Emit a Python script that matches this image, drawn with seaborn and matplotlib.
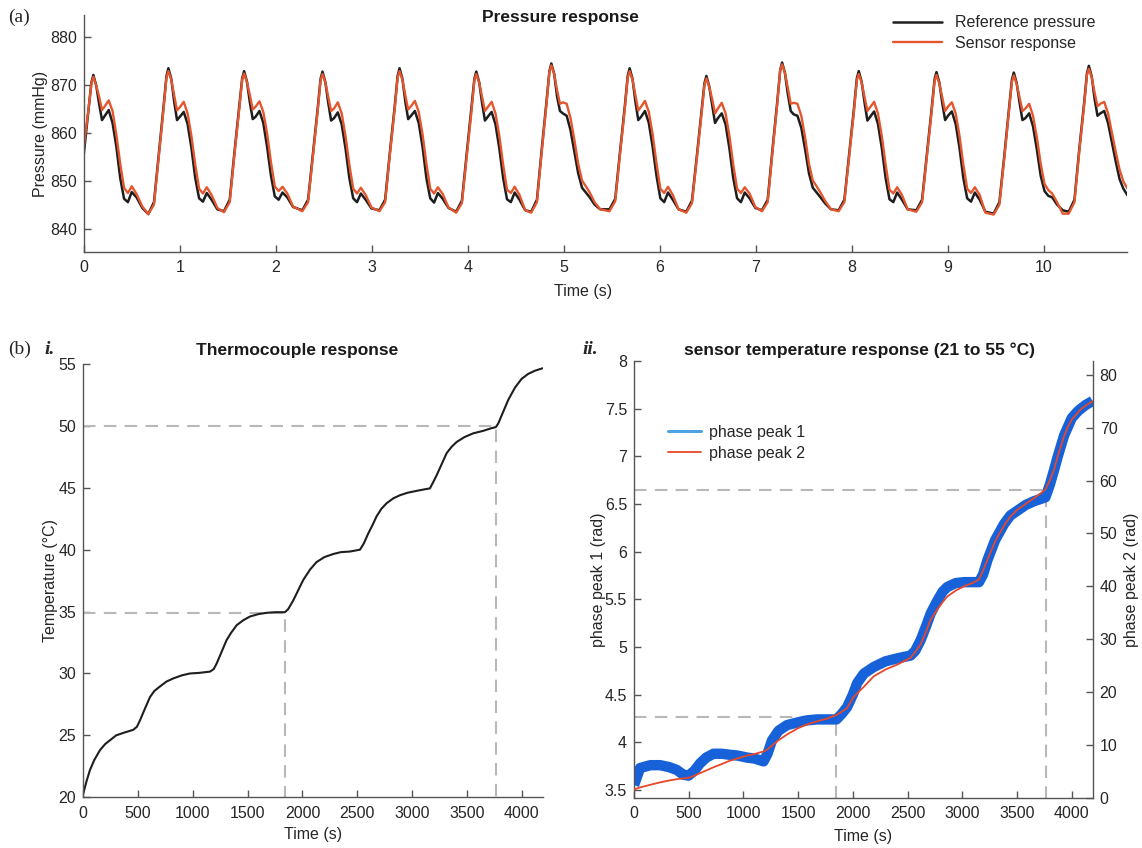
import matplotlib
matplotlib.use("Agg")
import matplotlib.pyplot as plt
from matplotlib.lines import Line2D
from matplotlib.ticker import FuncFormatter
import seaborn as sns

# ---------------- (a) pressure response ----------------
# peak time of every heart beat (s) and the sample offsets taken around each peak
beat_peaks = [0.097, 0.879, 1.668, 2.485, 3.288, 4.088, 4.870,
              5.686, 6.486, 7.275, 8.074, 8.884, 9.690, 10.472]
beat_offsets = [-0.21, -0.15, -0.10, -0.05, -0.02, 0.0, 0.03, 0.06, 0.09, 0.12,
                0.16, 0.20, 0.24, 0.28, 0.32, 0.36, 0.40, 0.45, 0.51]

ref_beats = [
    [843.5, 845.5, 855.5, 865.0, 870.5, 872.0, 869.8, 866.0, 862.6, 863.5, 864.7, 862.0, 857.0, 850.5, 846.2, 845.5, 847.6, 846.5, 844.3],
    [843.0, 845.5, 855.5, 865.5, 871.8, 873.4, 871.2, 866.5, 862.6, 863.3, 864.3, 861.8, 856.8, 850.5, 846.3, 845.6, 847.4, 846.0, 844.0],
    [843.6, 846.0, 856.0, 865.5, 871.3, 872.8, 870.6, 866.3, 862.8, 863.3, 864.5, 862.0, 857.0, 851.0, 846.7, 846.0, 847.5, 846.5, 844.5],
    [843.8, 846.0, 855.5, 865.0, 871.2, 872.7, 870.5, 866.2, 862.5, 863.0, 864.2, 861.7, 856.7, 850.5, 846.3, 845.5, 847.3, 846.0, 844.2],
    [843.8, 846.0, 856.0, 865.5, 871.8, 873.4, 871.2, 866.5, 862.8, 863.5, 864.5, 862.0, 857.0, 850.5, 846.3, 845.4, 847.4, 846.2, 844.3],
    [843.5, 845.8, 855.5, 865.0, 871.2, 872.7, 870.5, 866.2, 862.5, 863.3, 864.3, 861.7, 856.7, 850.5, 846.1, 845.5, 847.5, 846.0, 843.8],
    [843.5, 846.0, 856.5, 866.5, 872.8, 874.4, 872.2, 867.5, 864.5, 864.0, 863.5, 860.5, 856.0, 851.5, 848.5, 847.5, 846.5, 845.0, 844.0],
    [844.0, 846.2, 856.0, 865.5, 871.8, 873.4, 871.2, 866.5, 862.6, 863.3, 864.5, 862.0, 857.0, 851.0, 846.3, 845.5, 847.5, 846.0, 844.0],
    [843.5, 845.8, 855.0, 864.5, 870.3, 871.8, 869.6, 865.8, 862.0, 863.0, 864.0, 861.7, 856.7, 850.5, 846.3, 845.5, 847.5, 846.3, 844.3],
    [843.8, 846.0, 856.5, 866.5, 873.0, 874.6, 872.4, 868.0, 864.5, 863.8, 863.5, 861.0, 856.5, 851.5, 848.5, 847.5, 846.5, 845.2, 844.0],
    [843.8, 846.0, 855.5, 865.0, 871.3, 872.8, 870.6, 866.3, 862.5, 863.3, 864.4, 861.8, 856.8, 850.5, 846.1, 845.5, 847.5, 846.0, 844.0],
    [843.8, 846.0, 855.5, 865.0, 871.1, 872.6, 870.4, 866.2, 862.6, 863.5, 864.4, 861.8, 856.8, 850.5, 846.3, 845.6, 847.5, 846.0, 843.5],
    [843.1, 845.5, 855.0, 865.0, 871.0, 872.5, 870.3, 866.2, 862.6, 863.0, 864.0, 861.3, 856.5, 851.0, 847.8, 846.8, 846.5, 845.0, 843.8],
    [843.5, 846.0, 856.5, 866.0, 872.3, 873.9, 871.7, 867.0, 863.5, 864.0, 864.5, 862.0, 858.0, 854.0, 850.3, 848.3, 847.0, 845.8, 844.5],
]

sensor_beats = [
    [843.3, 845.0, 857.0, 865.0, 870.3, 871.6, 869.8, 867.5, 864.7, 865.5, 866.7, 864.5, 859.5, 853.5, 848.5, 847.4, 848.8, 847.2, 844.6],
    [843.0, 845.0, 855.0, 865.0, 871.5, 872.8, 871.0, 867.8, 864.6, 865.3, 866.4, 864.0, 859.3, 853.3, 848.3, 847.3, 848.6, 847.0, 844.3],
    [843.4, 845.5, 855.5, 865.0, 871.0, 872.3, 870.5, 867.8, 864.8, 865.4, 866.5, 864.3, 859.8, 853.8, 848.8, 847.8, 848.7, 847.3, 844.6],
    [843.6, 845.5, 855.0, 864.5, 870.9, 872.2, 870.4, 867.5, 864.5, 865.0, 866.3, 864.0, 859.3, 853.3, 848.3, 847.3, 848.5, 847.0, 844.4],
    [843.6, 845.5, 855.5, 865.0, 871.5, 872.8, 871.0, 867.8, 864.8, 865.5, 866.6, 864.3, 859.6, 853.5, 848.3, 847.3, 848.6, 847.2, 844.4],
    [843.3, 845.3, 855.0, 864.5, 870.9, 872.2, 870.4, 867.5, 864.5, 865.3, 866.4, 864.0, 859.3, 853.3, 848.1, 847.4, 848.7, 847.0, 843.8],
    [843.3, 845.5, 856.0, 866.0, 872.7, 874.0, 872.2, 868.8, 866.0, 866.3, 866.0, 863.0, 858.5, 853.5, 850.0, 848.8, 847.5, 845.5, 844.0],
    [843.6, 845.7, 855.5, 865.0, 871.5, 872.8, 871.0, 867.8, 864.6, 865.4, 866.6, 864.3, 859.6, 853.6, 848.3, 847.4, 848.7, 847.0, 844.0],
    [843.3, 845.3, 854.5, 864.0, 870.0, 871.3, 869.5, 867.0, 864.0, 865.0, 866.2, 864.0, 859.3, 853.3, 848.3, 847.4, 848.6, 847.3, 844.5],
    [843.6, 845.5, 856.0, 866.0, 872.9, 874.2, 872.4, 869.3, 866.0, 866.2, 866.0, 863.5, 859.0, 853.5, 850.0, 848.8, 847.5, 845.7, 844.0],
    [843.6, 845.5, 855.0, 864.5, 870.9, 872.2, 870.4, 867.5, 864.5, 865.3, 866.4, 864.0, 859.3, 853.3, 848.1, 847.3, 848.6, 847.0, 844.0],
    [843.5, 845.5, 855.0, 864.5, 870.7, 872.0, 870.2, 867.3, 864.5, 865.4, 866.3, 864.0, 859.3, 853.3, 848.3, 847.4, 848.6, 847.0, 843.3],
    [842.9, 845.0, 854.5, 864.5, 870.6, 871.9, 870.1, 867.3, 864.5, 865.0, 866.0, 863.5, 859.0, 853.5, 849.3, 848.0, 847.3, 845.5, 843.1],
    [843.1, 845.5, 856.0, 865.5, 872.0, 873.3, 871.5, 868.3, 865.5, 866.0, 866.4, 864.0, 860.0, 856.0, 852.3, 849.8, 848.4, 847.0, 845.5],
]

# ---------------- (b) i. thermocouple ----------------
tc_time = [0, 30, 61, 100, 152, 200, 243, 300, 365, 420, 456, 490, 517, 560, 609, 650, 700, 760, 821,
           900, 973, 1060, 1156, 1190, 1217, 1260, 1308, 1350, 1400, 1460, 1521, 1600, 1673, 1750,
           1840, 1870, 1916, 1960, 2007, 2070, 2129, 2200, 2281, 2350, 2433, 2525, 2560, 2600, 2640,
           2677, 2720, 2768, 2830, 2890, 2960, 3042, 3100, 3163, 3190, 3224, 3270, 3316, 3360, 3407,
           3480, 3559, 3650, 3720, 3765, 3787, 3830, 3878, 3940, 4000, 4060, 4120, 4190]
tc_temp = [20.3, 21.3, 22.2, 23.0, 23.8, 24.3, 24.6, 25.0, 25.2, 25.35, 25.45, 25.7, 26.2, 27.1, 28.1,
           28.6, 28.95, 29.35, 29.6, 29.85, 30.0, 30.05, 30.15, 30.35, 30.8, 31.7, 32.7, 33.3, 33.9,
           34.3, 34.6, 34.8, 34.9, 34.95, 34.95, 35.2, 35.9, 36.7, 37.55, 38.4, 39.0, 39.4, 39.65, 39.8,
           39.85, 40.0, 40.5, 41.3, 42.0, 42.7, 43.3, 43.75, 44.15, 44.4, 44.6, 44.75, 44.85, 44.95,
           45.4, 46.0, 46.9, 47.8, 48.3, 48.7, 49.1, 49.4, 49.6, 49.8, 49.9, 50.2, 51.1, 52.1, 53.1,
           53.8, 54.2, 54.45, 54.65]
tc_mark_time = [1843, 3770]
tc_mark_temp = [34.9, 50.0]

# ---------------- (b) ii. sensor phase ----------------
ph_time = [0, 55, 150, 238, 320, 391, 450, 497, 550, 604,
           660, 726, 800, 870, 950, 1030, 1100, 1184, 1220, 1261,
           1320, 1398, 1500, 1581, 1673, 1764, 1850, 1900, 1948, 2000,
           2039, 2100, 2191, 2300, 2405, 2527, 2570, 2619, 2670, 2711,
           2760, 2820, 2864, 2940, 3016, 3100, 3153, 3190, 3230, 3300,
           3382, 3440, 3504, 3580, 3657, 3710, 3760, 3800, 3840, 3871,
           3931, 3962, 4000, 4054, 4084, 4130, 4191]
ph_peak1 = [3.55, 3.73, 3.76, 3.76, 3.74, 3.71, 3.66, 3.65, 3.70, 3.78,
            3.84, 3.88, 3.88, 3.87, 3.86, 3.84, 3.83, 3.80, 3.88, 4.02,
            4.12, 4.18, 4.21, 4.23, 4.24, 4.24, 4.24, 4.30, 4.37, 4.50,
            4.62, 4.72, 4.79, 4.85, 4.88, 4.91, 4.96, 5.07, 5.22, 5.35,
            5.46, 5.58, 5.63, 5.67, 5.68, 5.68, 5.68, 5.76, 5.91, 6.12,
            6.29, 6.38, 6.43, 6.49, 6.53, 6.55, 6.57, 6.70, 6.86, 6.99,
            7.22, 7.30, 7.40, 7.47, 7.50, 7.54, 7.58]
ph_peak2 = [1.6, 2.0, 2.5, 2.95, 3.3, 3.55, 3.7, 3.8, 4.2, 4.7,
            5.2, 5.8, 6.4, 7.0, 7.5, 8.0, 8.3, 8.8, 9.2, 9.9,
            10.9, 12.0, 13.2, 13.9, 14.5, 15.0, 15.7, 16.3, 17.0, 18.9,
            19.8, 21.0, 23.0, 24.3, 25.2, 26.5, 27.6, 29.0, 31.5, 33.7,
            35.3, 37.0, 38.1, 39.2, 40.0, 40.7, 41.3, 43.0, 45.0, 48.5,
            51.5, 53.2, 54.5, 55.6, 56.7, 57.5, 58.3, 60.0, 62.1, 64.5,
            68.4, 70.0, 71.5, 72.8, 73.5, 74.2, 75.0]
ph_mark_time = [1846, 3765]
ph_mark_peak1 = [4.27, 6.65]

# ---------------- style ----------------
sns.set_theme(style="ticks")
plt.rcParams["font.family"] = ["Liberation Sans", "DejaVu Sans"]
plt.rcParams.update({
    "xtick.direction": "in", "ytick.direction": "in",
    "xtick.major.size": 5, "ytick.major.size": 5,
    "xtick.major.width": 1.0, "ytick.major.width": 1.0,
    "axes.edgecolor": "#555555", "axes.linewidth": 1.0,
    "xtick.color": "#555555", "ytick.color": "#555555",
    "xtick.labelcolor": "#262626", "ytick.labelcolor": "#262626",
    "xtick.labelsize": 11.5, "ytick.labelsize": 11.5,
    "axes.labelsize": 11.5, "axes.labelcolor": "#262626",
})
fmt = FuncFormatter(lambda v, p: f"{v:g}")
dash_kw = dict(color="#b8b8b8", lw=1.5, dashes=(6, 4), zorder=1)
black = "#1e1e1e"
orange = "#e4572e"
blue = "#1762d8"
red = "#e8472a"

fig = plt.figure(figsize=(11.42, 8.48), dpi=100)

# ---- (a)
ax = fig.add_axes([0.0736, 0.7028, 0.9133, 0.2795])
p_time = [pk + off for pk in beat_peaks for off in beat_offsets]
p_ref = [v for row in ref_beats for v in row]
p_sen = [v for row in sensor_beats for v in row]
sns.lineplot(x=p_time, y=p_ref, ax=ax, color=black, lw=1.8, estimator=None,
             label="Reference pressure")
sns.lineplot(x=p_time, y=p_sen, ax=ax, color=orange, lw=1.7, estimator=None,
             label="Sensor response")
ax.set_xlim(0, 10.87)
ax.set_ylim(835.1, 884.5)
ax.set_xticks(range(0, 11))
ax.set_yticks([840, 850, 860, 870, 880])
ax.xaxis.set_major_formatter(fmt)
ax.set_xlabel("Time (s)")
ax.set_ylabel("Pressure (mmHg)")
ax.xaxis.set_label_coords(0.478, -0.135)
ax.yaxis.set_label_coords(-0.035, 0.5)
ax.tick_params(axis="x", pad=6)
ax.tick_params(axis="y", pad=5)
sns.despine(ax=ax)
ax.legend(loc="upper left", bbox_to_anchor=(0.7695, 1.025), frameon=False,
          fontsize=11.5, handlelength=3.05, handletextpad=0.8, labelspacing=0.35,
          borderaxespad=0, borderpad=0.4)

# ---- (b) i
ax1 = fig.add_axes([0.0729, 0.0598, 0.4023, 0.5110])
ax1.set_xlim(0, 4192)
ax1.set_ylim(20, 55)
for t, T in zip(tc_mark_time, tc_mark_temp):
    ax1.plot([0, t, t], [T, T, 20], **dash_kw)
sns.lineplot(x=tc_time, y=tc_temp, ax=ax1, color=black, lw=1.5, estimator=None)
ax1.set_xticks(range(0, 4001, 500))
ax1.set_yticks(range(20, 56, 5))
ax1.set_xlabel("Time (s)")
ax1.set_ylabel("Temperature (°C)")
ax1.xaxis.set_label_coords(0.5, -0.069)
ax1.yaxis.set_label_coords(-0.055, 0.5)
ax1.tick_params(axis="x", pad=6)
ax1.tick_params(axis="y", pad=5)
sns.despine(ax=ax1)

# ---- (b) ii
ax2 = fig.add_axes([0.5552, 0.0590, 0.4017, 0.5153])
ax2.set_xlim(0, 4193)
ax2.set_ylim(3.416, 8.0)
for t, v in zip(ph_mark_time, ph_mark_peak1):
    ax2.plot([0, t, t], [v, v, 3.416], **dash_kw)
# the noisy phase-1 trace is shown as a wide band
sns.lineplot(x=ph_time, y=ph_peak1, ax=ax2, color=blue, lw=7.5,
             estimator=None, solid_capstyle="butt", solid_joinstyle="round")
ax2.set_xticks(range(0, 4001, 500))
ax2.set_yticks([3.5, 4, 4.5, 5, 5.5, 6, 6.5, 7, 7.5, 8])
ax2.yaxis.set_major_formatter(fmt)
ax2.set_xlabel("Time (s)")
ax2.set_ylabel("phase peak 1 (rad)")
ax2.xaxis.set_label_coords(0.5, -0.071)
ax2.yaxis.set_label_coords(-0.061, 0.5)
ax2.tick_params(axis="x", pad=6)
ax2.tick_params(axis="y", pad=5)
sns.despine(ax=ax2)

ax3 = ax2.twinx()
sns.lineplot(x=ph_time, y=ph_peak2, ax=ax3, color=red, lw=1.3, estimator=None)
ax3.set_ylim(0, 82.6)
ax3.set_yticks(range(0, 81, 10))
ax3.set_ylabel("phase peak 2 (rad)")
ax3.yaxis.set_label_coords(1.068, 0.5)
ax3.tick_params(axis="y", pad=5)
for s in ["top", "left", "bottom"]:
    ax3.spines[s].set_visible(False)
handles = [Line2D([], [], color="#4fa3e3", lw=2.2), Line2D([], [], color=red, lw=1.3)]
ax3.legend(handles, ["phase peak 1", "phase peak 2"], loc="upper left",
           bbox_to_anchor=(0.060, 0.868), frameon=False, fontsize=11.5,
           handlelength=2.1, handletextpad=0.5, labelspacing=0.35,
           borderaxespad=0, borderpad=0.4)

# ---- panel labels and titles
serif = ["Liberation Serif", "DejaVu Serif"]
fig.text(0.007, 0.979, "(a)", family=serif, fontsize=14, va="center")
fig.text(0.007, 0.588, "(b)", family=serif, fontsize=14, va="center")
fig.text(0.039, 0.588, "i.", family=serif, fontsize=14, va="center",
         weight="bold", style="italic")
fig.text(0.510, 0.588, "ii.", family=serif, fontsize=14, va="center",
         weight="bold", style="italic")
fig.text(0.4904, 0.979, "Pressure response", ha="center", va="center",
         fontsize=12.5, weight="bold", color="#1a1a1a")
fig.text(0.260, 0.587, "Thermocouple response", ha="center", va="center",
         fontsize=12.5, weight="bold", color="#1a1a1a")
fig.text(0.753, 0.587, "sensor temperature response (21 to 55 °C)", ha="center",
         va="center", fontsize=12.5, weight="bold", color="#1a1a1a")

fig.savefig("out.png", dpi=100)
